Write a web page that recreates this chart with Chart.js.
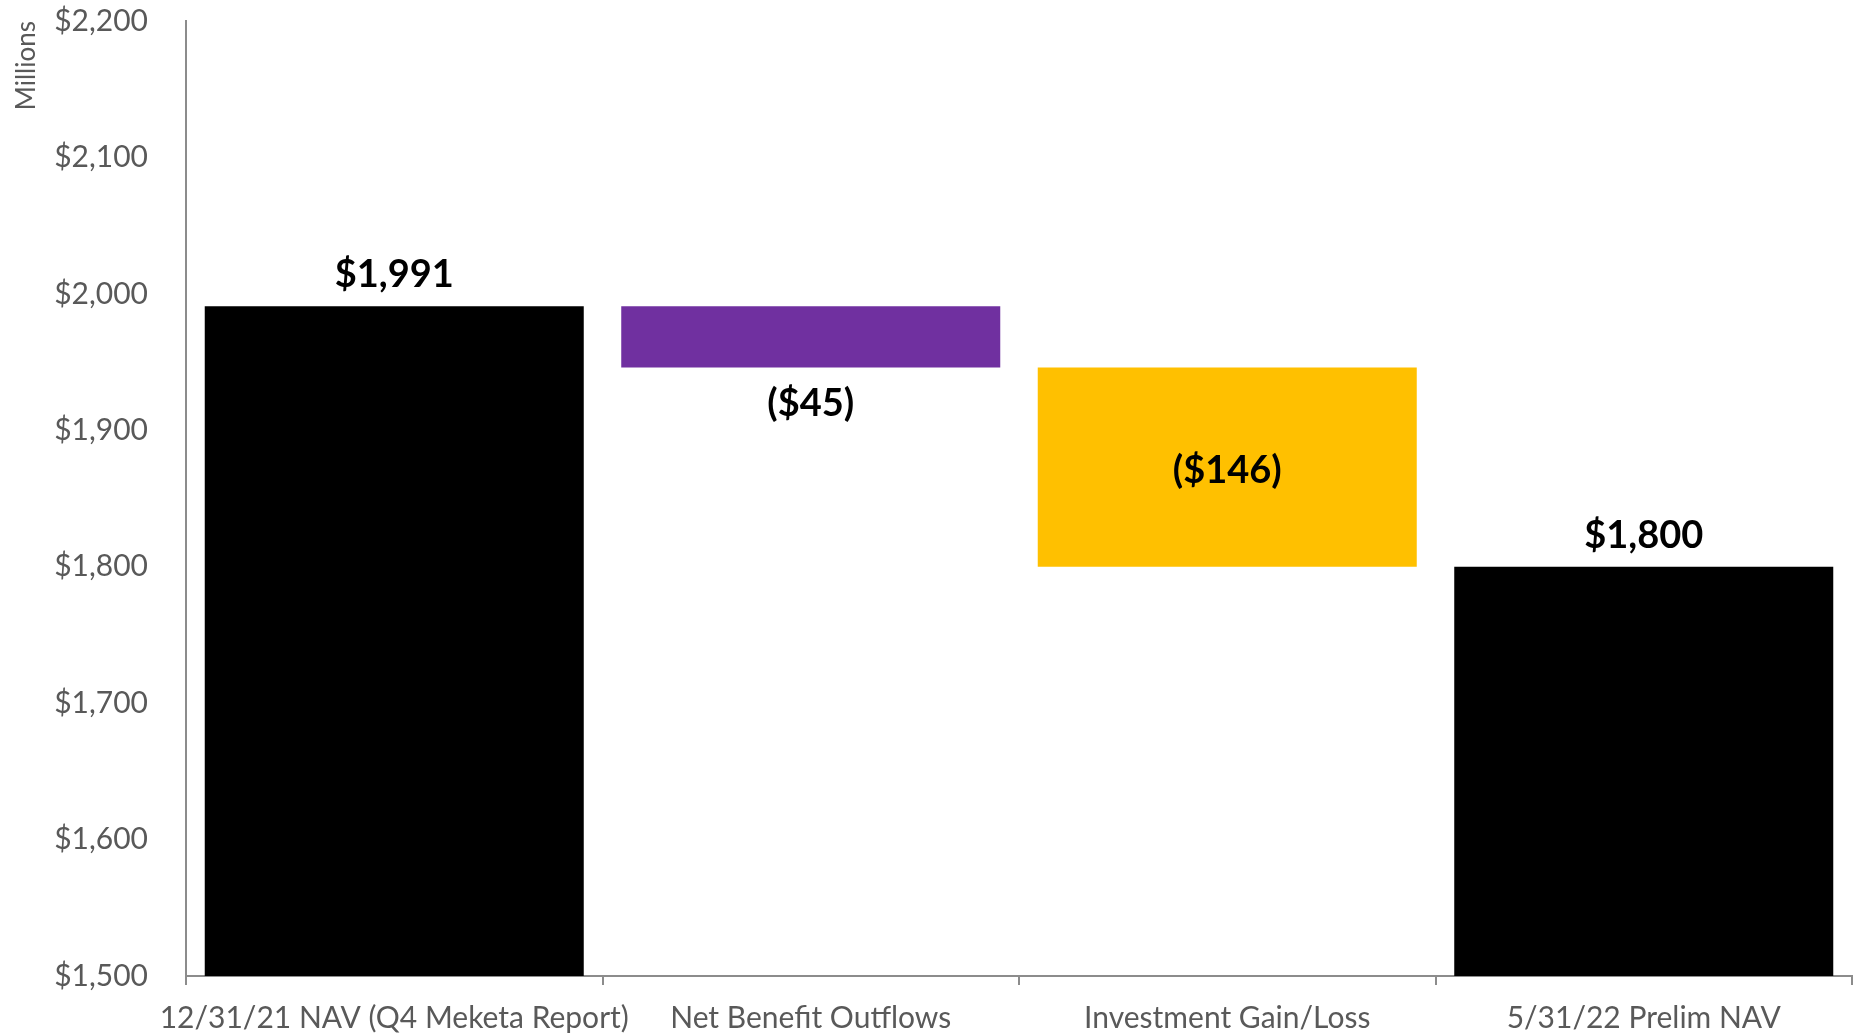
<!DOCTYPE html>
<html lang="en">

<head>
    <meta charset="UTF-8">
    <title>NAV Waterfall</title>
    <style>
        body {
            margin: 0;
            padding: 0;
            background-color: #ffffff;
        }

        canvas {
            display: block;
        }
    </style>
</head>

<body>
    <canvas id="waterfall" width="1858" height="1036"></canvas>

    <script src="https://cdn.jsdelivr.net/npm/chart.js"></script>
    <script>
        // chart data (millions)
        const categories = ['12/31/21 NAV (Q4 Meketa Report)', 'Net Benefit Outflows', 'Investment Gain/Loss', '5/31/22 Prelim NAV'];
        const amounts = [1991, -45, -146, 1800];
        const isTotal = [true, false, false, true];
        const barColors = ['#000000', '#7030A0', '#FFC000', '#000000'];
        const yTickValues = [1500, 1600, 1700, 1800, 1900, 2000, 2100, 2200];

        const yMin = yTickValues[0];
        const yMax = yTickValues[yTickValues.length - 1];

        // build floating bars for the waterfall
        let running = 0;
        const floating = amounts.map(function (v, i) {
            if (isTotal[i]) {
                running = v;
                return [yMin, v];
            }
            const start = running;
            running = running + v;
            return [running, start];
        });

        function money(v) {
            const s = '$' + Math.abs(v).toLocaleString('en-US');
            return v < 0 ? '(' + s + ')' : s;
        }

        // value labels: totals above, small steps below, big steps centred
        const valueLabels = {
            id: 'valueLabels',
            afterDatasetsDraw(chart) {
                const ctx = chart.ctx;
                const meta = chart.getDatasetMeta(0);
                ctx.save();
                ctx.font = 'bold 38px Lato';
                ctx.fillStyle = '#000000';
                ctx.textAlign = 'center';
                ctx.textBaseline = 'middle';
                meta.data.forEach(function (bar, i) {
                    const top = Math.min(bar.y, bar.base);
                    const bottom = Math.max(bar.y, bar.base);
                    let y;
                    if (isTotal[i]) {
                        y = top - 31;
                    } else if (bottom - top < 100) {
                        y = bottom + 36;
                    } else {
                        y = (top + bottom) / 2 + 4;
                    }
                    ctx.fillText(money(amounts[i]), bar.x, y);
                });
                ctx.restore();
            }
        };

        const ctx = document.getElementById('waterfall').getContext('2d');

        new Chart(ctx, {
            type: 'bar',
            data: {
                labels: categories,
                datasets: [{
                    data: floating,
                    backgroundColor: barColors,
                    borderWidth: 0,
                    categoryPercentage: 1,
                    barPercentage: 0.91
                }]
            },
            options: {
                responsive: false,
                animation: false,
                layout: {
                    padding: { top: 21, right: 6, left: 0, bottom: 0 }
                },
                plugins: {
                    legend: { display: false },
                    tooltip: { enabled: false }
                },
                scales: {
                    x: {
                        grid: {
                            display: true,
                            offset: true,
                            drawOnChartArea: false,
                            drawTicks: true,
                            tickLength: 9,
                            color: '#8c8c8c',
                            lineWidth: 2
                        },
                        border: { display: true, color: '#8c8c8c', width: 2 },
                        ticks: {
                            color: '#595959',
                            font: { family: 'Lato', size: 30 },
                            padding: 15,
                            maxRotation: 0,
                            autoSkip: false
                        },
                        afterFit(scale) {
                            scale.height = 60;
                            scale.paddingLeft = 0;
                            scale.paddingRight = 0;
                        }
                    },
                    y: {
                        min: yMin,
                        max: yMax,
                        grid: { display: false, drawTicks: false },
                        border: { display: true, color: '#8c8c8c', width: 2 },
                        afterBuildTicks(scale) {
                            scale.ticks = yTickValues.map(function (v) { return { value: v }; });
                        },
                        ticks: {
                            color: '#595959',
                            font: { family: 'Lato', size: 30 },
                            padding: 38,
                            callback: function (v) { return money(v); }
                        },
                        title: {
                            display: true,
                            text: 'Millions',
                            align: 'end',
                            color: '#595959',
                            font: { family: 'Lato', size: 26 },
                            padding: { top: 11, bottom: 0 }
                        },
                        afterFit(scale) {
                            scale.width = 186;
                            scale.paddingTop = 0;
                            scale.paddingBottom = 0;
                        }
                    }
                }
            },
            plugins: [valueLabels]
        });
    </script>
</body>

</html>
